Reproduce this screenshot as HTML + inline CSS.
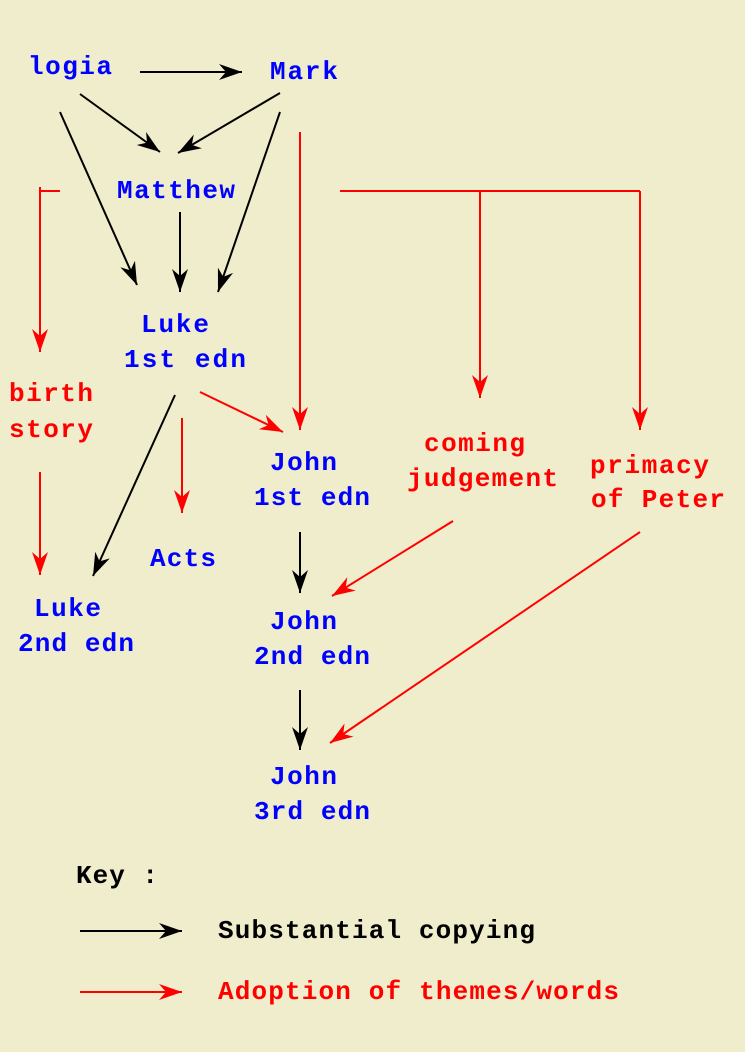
<!DOCTYPE html>
<html><head><meta charset="utf-8"><style>
html,body{margin:0;padding:0;background:#efedcc;}
svg{display:block}
text{font-family:"Liberation Mono",monospace;font-weight:bold;font-size:26px;}
.b{fill:#0000ff}.r{fill:#ff0000}.k{fill:#000}
</style></head><body>
<svg width="745" height="1052" viewBox="0 0 745 1052" xmlns="http://www.w3.org/2000/svg">
<defs>
<marker id="ak" viewBox="-23 -9 24 18" refX="0" refY="0" markerWidth="24" markerHeight="18" markerUnits="userSpaceOnUse" orient="auto">
<path d="M0,0 L-23,-8 L-16,0 L-23,8 z" fill="#000"/></marker>
<marker id="ar" viewBox="-23 -9 24 18" refX="0" refY="0" markerWidth="24" markerHeight="18" markerUnits="userSpaceOnUse" orient="auto">
<path d="M0,0 L-23,-8 L-16,0 L-23,8 z" fill="#f00"/></marker>
</defs>
<rect width="745" height="1052" fill="#efedcc"/>
<g stroke="#000" stroke-width="2" fill="none" marker-end="url(#ak)">
<line x1="140" y1="72" x2="242" y2="72"/>
<line x1="80" y1="94" x2="160" y2="152"/>
<line x1="280" y1="93" x2="178" y2="153"/>
<line x1="60" y1="112" x2="137" y2="285"/>
<line x1="180" y1="212" x2="180" y2="292"/>
<line x1="280" y1="112" x2="218" y2="292"/>
<line x1="175" y1="395" x2="93" y2="576"/>
<line x1="300" y1="532" x2="300" y2="593"/>
<line x1="300" y1="690" x2="300" y2="750"/>
<line x1="80" y1="931" x2="182" y2="931"/>
</g>
<g stroke="#f00" stroke-width="2" fill="none">
<line x1="40" y1="191" x2="60" y2="191"/>
<line x1="40" y1="187" x2="40" y2="191"/>
<line x1="340" y1="191" x2="640" y2="191"/>
</g>
<g stroke="#f00" stroke-width="2" fill="none" marker-end="url(#ar)">
<line x1="300" y1="132" x2="300" y2="430"/>
<line x1="40" y1="191" x2="40" y2="352"/>
<line x1="480" y1="191" x2="480" y2="398"/>
<line x1="640" y1="191" x2="640" y2="430"/>
<line x1="200" y1="392" x2="283" y2="432"/>
<line x1="182" y1="418" x2="182" y2="513"/>
<line x1="40" y1="472" x2="40" y2="575"/>
<line x1="453" y1="521" x2="332" y2="596"/>
<line x1="640" y1="532" x2="330" y2="743"/>
<line x1="80" y1="992" x2="182" y2="992"/>
</g>
<text class="b" x="28" y="74" textLength="84" lengthAdjust="spacing">logia</text>
<text class="b" x="270" y="79" textLength="68" lengthAdjust="spacing">Mark</text>
<text class="b" x="117" y="198" textLength="118" lengthAdjust="spacing">Matthew</text>
<text class="b" x="141" y="332" textLength="68" lengthAdjust="spacing">Luke</text>
<text class="b" x="124" y="367" textLength="122" lengthAdjust="spacing">1st edn</text>
<text class="r" x="9" y="401" textLength="84" lengthAdjust="spacing">birth</text>
<text class="r" x="9" y="437" textLength="84" lengthAdjust="spacing">story</text>
<text class="b" x="270" y="470" textLength="67" lengthAdjust="spacing">John</text>
<text class="b" x="254" y="505" textLength="116" lengthAdjust="spacing">1st edn</text>
<text class="r" x="424" y="451" textLength="101" lengthAdjust="spacing">coming</text>
<text class="r" x="407" y="486" textLength="151" lengthAdjust="spacing">judgement</text>
<text class="r" x="590" y="473" textLength="119" lengthAdjust="spacing">primacy</text>
<text class="r" x="591" y="507" textLength="134" lengthAdjust="spacing">of Peter</text>
<text class="b" x="150" y="566" textLength="66" lengthAdjust="spacing">Acts</text>
<text class="b" x="34" y="616" textLength="67" lengthAdjust="spacing">Luke</text>
<text class="b" x="18" y="651" textLength="116" lengthAdjust="spacing">2nd edn</text>
<text class="b" x="270" y="629" textLength="67" lengthAdjust="spacing">John</text>
<text class="b" x="254" y="664" textLength="116" lengthAdjust="spacing">2nd edn</text>
<text class="b" x="270" y="784" textLength="67" lengthAdjust="spacing">John</text>
<text class="b" x="254" y="819" textLength="116" lengthAdjust="spacing">3rd edn</text>
<text class="k" x="76" y="883" textLength="82" lengthAdjust="spacing">Key :</text>
<text class="k" x="218" y="938" textLength="317" lengthAdjust="spacing">Substantial copying</text>
<text class="r" x="218" y="999" textLength="401" lengthAdjust="spacing">Adoption of themes/words</text>
</svg>
</body></html>
